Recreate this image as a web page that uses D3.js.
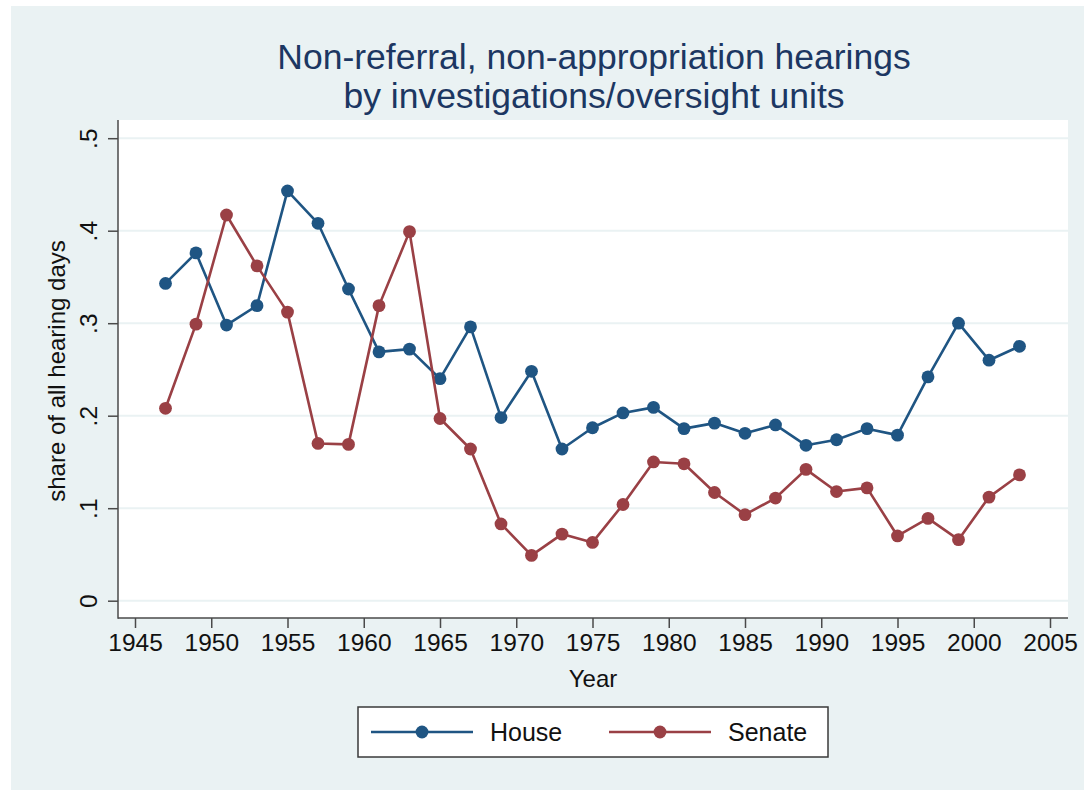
<!DOCTYPE html>
<html>
<head>
<meta charset="utf-8">
<script src="https://cdn.jsdelivr.net/npm/d3@7"></script>
<style>
  html, body { margin: 0; padding: 0; background: #ffffff; }
  svg { display: block; }
  text { font-family: "Liberation Sans", Arial, Helvetica, sans-serif; }
</style>
</head>
<body>
<svg id="chart" width="1084" height="790"></svg>
<script>
// ---- data ----
const years = [1947,1949,1951,1953,1955,1957,1959,1961,1963,1965,1967,1969,1971,1973,1975,1977,1979,1981,1983,1985,1987,1989,1991,1993,1995,1997,1999,2001,2003];
const house = [0.343,0.376,0.298,0.319,0.443,0.408,0.337,0.269,0.272,0.240,0.296,0.198,0.248,0.164,0.187,0.203,0.209,0.186,0.192,0.181,0.190,0.168,0.174,0.186,0.179,0.242,0.300,0.260,0.275];
const senate = [0.208,0.299,0.417,0.362,0.312,0.170,0.169,0.319,0.399,0.197,0.164,0.083,0.049,0.072,0.063,0.104,0.150,0.148,0.117,0.093,0.111,0.142,0.118,0.122,0.070,0.089,0.066,0.112,0.136];
const xTicks = [1945,1950,1955,1960,1965,1970,1975,1980,1985,1990,1995,2000,2005];
const yTicks = [0,0.1,0.2,0.3,0.4,0.5];
const yTickLabels = ["0",".1",".2",".3",".4",".5"];
const seriesNames = ["House","Senate"];
const titleLines = ["Non-referral, non-appropriation hearings","by investigations/oversight units"];
const xTitle = "Year";
const yTitle = "share of all hearing days";

// ---- layout ----
const W = 1084, H = 790;
const plot = {left: 118, right: 1068, top: 120, bottom: 618};
const colors = {House: "#1f5583", Senate: "#9a4045"};
const bg = "#eaf2f3";
const axisColor = "#4a4a4a";
const textColor = "#111111";

const svg = d3.select("#chart");

// outer background
svg.append("rect").attr("x", 11).attr("y", 6).attr("width", W - 11).attr("height", H - 6).attr("fill", bg);
// plot region
svg.append("rect").attr("x", plot.left).attr("y", plot.top)
  .attr("width", plot.right - plot.left).attr("height", plot.bottom - plot.top).attr("fill", "#ffffff");

const x = d3.scaleLinear().domain([1945, 2005]).range([135, 1050]);
const y = d3.scaleLinear().domain([0, 0.5]).range([600.7, 138.2]);

// gridlines
svg.append("g").selectAll("line").data(yTicks).join("line")
  .attr("x1", plot.left).attr("x2", plot.right)
  .attr("y1", d => y(d)).attr("y2", d => y(d))
  .attr("stroke", bg).attr("stroke-width", 2);

// y axis
const yAxis = svg.append("g").attr("transform", `translate(${plot.left},0)`)
  .call(d3.axisLeft(y).tickValues(yTicks).tickFormat((d, i) => yTickLabels[i]).tickSize(10).tickSizeOuter(0));
yAxis.select(".domain").remove();
yAxis.selectAll(".tick line").attr("stroke", axisColor).attr("stroke-width", 1.5);
yAxis.selectAll(".tick text")
  .attr("x", null).attr("dy", null).attr("y", null)
  .attr("transform", "translate(-21,0) rotate(-90)")
  .attr("text-anchor", "middle")
  .attr("fill", textColor).style("font-size", "24.5px");

// x axis
const xAxis = svg.append("g").attr("transform", `translate(0,${plot.bottom})`)
  .call(d3.axisBottom(x).tickValues(xTicks).tickFormat(d3.format("d")).tickSize(10).tickSizeOuter(0));
xAxis.select(".domain").remove();
xAxis.selectAll(".tick line").attr("stroke", axisColor).attr("stroke-width", 1.5);
xAxis.selectAll(".tick text").attr("y", 33).attr("dy", null)
  .attr("fill", textColor).style("font-size", "24.5px");

// axis lines
svg.append("line").attr("x1", plot.left).attr("x2", plot.left).attr("y1", plot.top).attr("y2", plot.bottom + 0.75)
  .attr("stroke", axisColor).attr("stroke-width", 1.5);
svg.append("line").attr("x1", plot.left).attr("x2", plot.right).attr("y1", plot.bottom).attr("y2", plot.bottom)
  .attr("stroke", axisColor).attr("stroke-width", 1.5);

// axis titles
svg.append("text").attr("x", 593).attr("y", 687).attr("text-anchor", "middle")
  .attr("fill", textColor).style("font-size", "24px").text(xTitle);
svg.append("text").attr("transform", "translate(65,371) rotate(-90)").attr("text-anchor", "middle")
  .attr("fill", textColor).style("font-size", "24px").text(yTitle);

// title
svg.append("g").selectAll("text").data(titleLines).join("text")
  .attr("x", 594).attr("y", (d, i) => 69 + i * 39)
  .attr("text-anchor", "middle").attr("fill", "#1c3762")
  .style("font-size", "35.5px").text(d => d);

// series
const series = [
  {name: seriesNames[0], values: house},
  {name: seriesNames[1], values: senate}
];
const line = d3.line().x(d => x(d[0])).y(d => y(d[1]));
const gSeries = svg.append("g");
series.forEach(s => {
  const pts = years.map((yr, i) => [yr, s.values[i]]);
  gSeries.append("path").datum(pts).attr("d", line)
    .attr("fill", "none").attr("stroke", colors[s.name]).attr("stroke-width", 2.6)
    .attr("stroke-linejoin", "round");
  gSeries.append("g").selectAll("circle").data(pts).join("circle")
    .attr("cx", d => x(d[0])).attr("cy", d => y(d[1])).attr("r", 6.4)
    .attr("fill", colors[s.name]);
});

// legend
const legend = svg.append("g");
legend.append("rect").attr("x", 358).attr("y", 707).attr("width", 470).attr("height", 50)
  .attr("fill", "#ffffff").attr("stroke", "#3a3a3a").attr("stroke-width", 1.5);
const legItems = [
  {name: seriesNames[0], x0: 371, textX: 490},
  {name: seriesNames[1], x0: 609, textX: 728}
];
legItems.forEach(it => {
  legend.append("line").attr("x1", it.x0).attr("x2", it.x0 + 102).attr("y1", 732).attr("y2", 732)
    .attr("stroke", colors[it.name]).attr("stroke-width", 2.6);
  legend.append("circle").attr("cx", it.x0 + 51).attr("cy", 732).attr("r", 6.4).attr("fill", colors[it.name]);
  legend.append("text").attr("x", it.textX).attr("y", 741).attr("fill", textColor)
    .style("font-size", "25px").text(it.name);
});
</script>
</body>
</html>
